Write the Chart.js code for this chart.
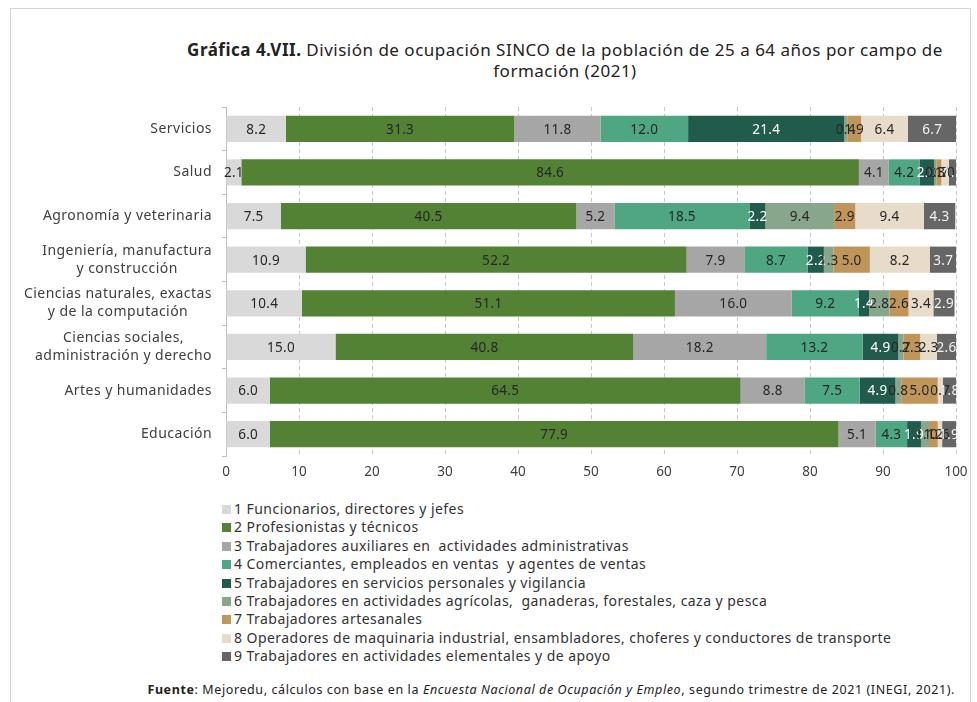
<!DOCTYPE html>
<html>
<head>
<meta charset="utf-8">
<script src="https://cdn.jsdelivr.net/npm/chart.js@4"></script>
<style>
  body { margin: 0; background: #fff; font-family: "Noto Sans", sans-serif; color: #333; }
  #frame { position: absolute; left: 10px; top: 8px; width: 959px; height: 720px; border: 1px solid #d6d6d6; }
  #title { position: absolute; left: 150px; top: 39px; width: 830px; text-align: center; font-size: 17px; letter-spacing: 0.5px; line-height: 21px; color: #222; }
  #wrap { position: absolute; left: 0; top: 102px; width: 977px; height: 390px; }
  #legend { position: absolute; left: 222px; top: 500px; font-size: 14px; letter-spacing: 0.45px; line-height: 18.4px; color: #333; white-space: pre; }
  #legend div span { display: inline-block; width: 9px; height: 9px; margin-right: 3px; }
  #source { position: absolute; right: 22px; top: 681px; font-size: 12.5px; letter-spacing: 0.6px; color: #222; white-space: nowrap; }
</style>
</head>
<body>
<div id="frame"></div>
<div id="title"><b>Gráfica 4.VII.</b> División de ocupación SINCO de la población de 25 a 64 años por campo de<br>formación (2021)</div>
<div id="wrap"><canvas id="chart" width="977" height="390"></canvas></div>
<div id="legend"></div>
<div id="source"><b>Fuente</b>: Mejoredu, cálculos con base en la <i>Encuesta Nacional de Ocupación y Empleo</i>, segundo trimestre de 2021 (INEGI, 2021).</div>
<script>
const categories = [
  ["Servicios"],
  ["Salud"],
  ["Agronomía y veterinaria"],
  ["Ingeniería, manufactura", "y construcción"],
  ["Ciencias naturales, exactas", "y de la computación"],
  ["Ciencias sociales,", "administración y derecho"],
  ["Artes y humanidades"],
  ["Educación"]
];

const seriesNames = [
  "1 Funcionarios, directores y jefes",
  "2 Profesionistas y técnicos",
  "3 Trabajadores auxiliares en  actividades administrativas",
  "4 Comerciantes, empleados en ventas  y agentes de ventas",
  "5 Trabajadores en servicios personales y vigilancia",
  "6 Trabajadores en actividades agrícolas,  ganaderas, forestales, caza y pesca",
  "7 Trabajadores artesanales",
  "8 Operadores de maquinaria industrial, ensambladores, choferes y conductores de transporte",
  "9 Trabajadores en actividades elementales y de apoyo"
];

// one array per occupation division, in category order
const funcionarios = [8.2, 2.1, 7.5, 10.9, 10.4, 15.0, 6.0, 6.0];
const profesionistas = [31.3, 84.6, 40.5, 52.2, 51.1, 40.8, 64.5, 77.9];
const auxiliares = [11.8, 4.1, 5.2, 7.9, 16.0, 18.2, 8.8, 5.1];
const comerciantes = [12.0, 4.2, 18.5, 8.7, 9.2, 13.2, 7.5, 4.3];
const servicios = [21.4, 2.0, 2.2, 2.2, 1.4, 4.9, 4.9, 1.9];
const agricolas = [0.4, 0.3, 9.4, 1.3, 2.8, 0.7, 0.8, 1.1];
const artesanales = [1.9, 0.7, 2.9, 5.0, 2.6, 2.3, 5.0, 1.2];
const operadores = [6.4, 1.0, 9.4, 8.2, 3.4, 2.3, 0.7, 0.6];
const elementales = [6.7, 1.1, 4.3, 3.7, 2.9, 2.6, 1.8, 1.9];

const xTicks = [0, 10, 20, 30, 40, 50, 60, 70, 80, 90, 100];

const allSeries = [funcionarios, profesionistas, auxiliares, comerciantes, servicios,
  agricolas, artesanales, operadores, elementales];
const colors = ["#d9d9d9", "#548235", "#a6a6a6", "#4fa682", "#215b4c",
  "#87a68c", "#bf9559", "#e7dcc9", "#666666"];
const labelColors = ["#262626", "#262626", "#262626", "#262626", "#ffffff",
  "#262626", "#262626", "#262626", "#f2f2f2"];

const fontFamily = "'Noto Sans', sans-serif";

// bar value labels, drawn in the middle of each segment
const valueLabels = {
  id: "valueLabels",
  afterDatasetsDraw(chart) {
    const ctx = chart.ctx;
    ctx.save();
    ctx.font = "13.5px " + fontFamily;
    ctx.letterSpacing = "0.3px";
    ctx.textAlign = "center";
    ctx.textBaseline = "middle";
    chart.data.datasets.forEach((ds, i) => {
      const meta = chart.getDatasetMeta(i);
      meta.data.forEach((bar, j) => {
        const v = ds.data[j];
        const p = bar.getProps(["x", "y", "base"], true);
        ctx.fillStyle = labelColors[i];
        ctx.fillText(v.toFixed(1), (p.x + p.base) / 2, p.y + 1);
      });
    });
    ctx.restore();
  }
};

// category labels: block right aligned, lines centred inside the block
const categoryLabels = {
  id: "categoryLabels",
  afterDraw(chart) {
    const ctx = chart.ctx;
    const yScale = chart.scales.y;
    const right = chart.chartArea.left - 14;
    ctx.save();
    ctx.font = "14px " + fontFamily;
    ctx.letterSpacing = "0.45px";
    ctx.fillStyle = "#404040";
    ctx.textAlign = "center";
    ctx.textBaseline = "middle";
    categories.forEach((lines, i) => {
      const w = Math.max(...lines.map(l => ctx.measureText(l).width));
      const cx = right - w / 2;
      const cy = yScale.getPixelForValue(i);
      const lh = 18;
      lines.forEach((l, k) => {
        ctx.fillText(l, cx, cy + (k - (lines.length - 1) / 2) * lh);
      });
    });
    ctx.restore();
  }
};

new Chart(document.getElementById("chart"), {
  type: "bar",
  data: {
    labels: categories.map(c => c.join(" ")),
    datasets: allSeries.map((d, i) => ({
      label: seriesNames[i],
      data: d,
      backgroundColor: colors[i],
      borderWidth: 0,
      barPercentage: 0.6,
      categoryPercentage: 1
    }))
  },
  options: {
    indexAxis: "y",
    responsive: false,
    animation: false,
    layout: { padding: { left: 0, right: 21, top: 5, bottom: 0 } },
    plugins: {
      legend: { display: false },
      tooltip: { enabled: false }
    },
    scales: {
      x: {
        stacked: true,
        min: 0,
        max: 100,
        afterBuildTicks: s => { s.ticks = xTicks.map(v => ({ value: v })); },
        afterFit: s => { s.height = 36; },
        grid: { color: "#c8c8c8", drawTicks: false },
        border: { display: false, dash: [4, 3] },
        ticks: { padding: 8, color: "#404040", font: { family: fontFamily, size: 13.5 } }
      },
      y: {
        stacked: true,
        offset: true,
        afterFit: s => { s.width = 226; },
        grid: { offset: true, drawOnChartArea: false, drawTicks: true, tickLength: 4, color: "#bfbfbf" },
        border: { display: true, color: "#bfbfbf" },
        ticks: { display: false }
      }
    }
  },
  plugins: [valueLabels, categoryLabels]
});

const legend = document.getElementById("legend");
seriesNames.forEach((name, i) => {
  const row = document.createElement("div");
  const sw = document.createElement("span");
  sw.style.background = colors[i];
  row.appendChild(sw);
  row.appendChild(document.createTextNode(name));
  legend.appendChild(row);
});
</script>
</body>
</html>
